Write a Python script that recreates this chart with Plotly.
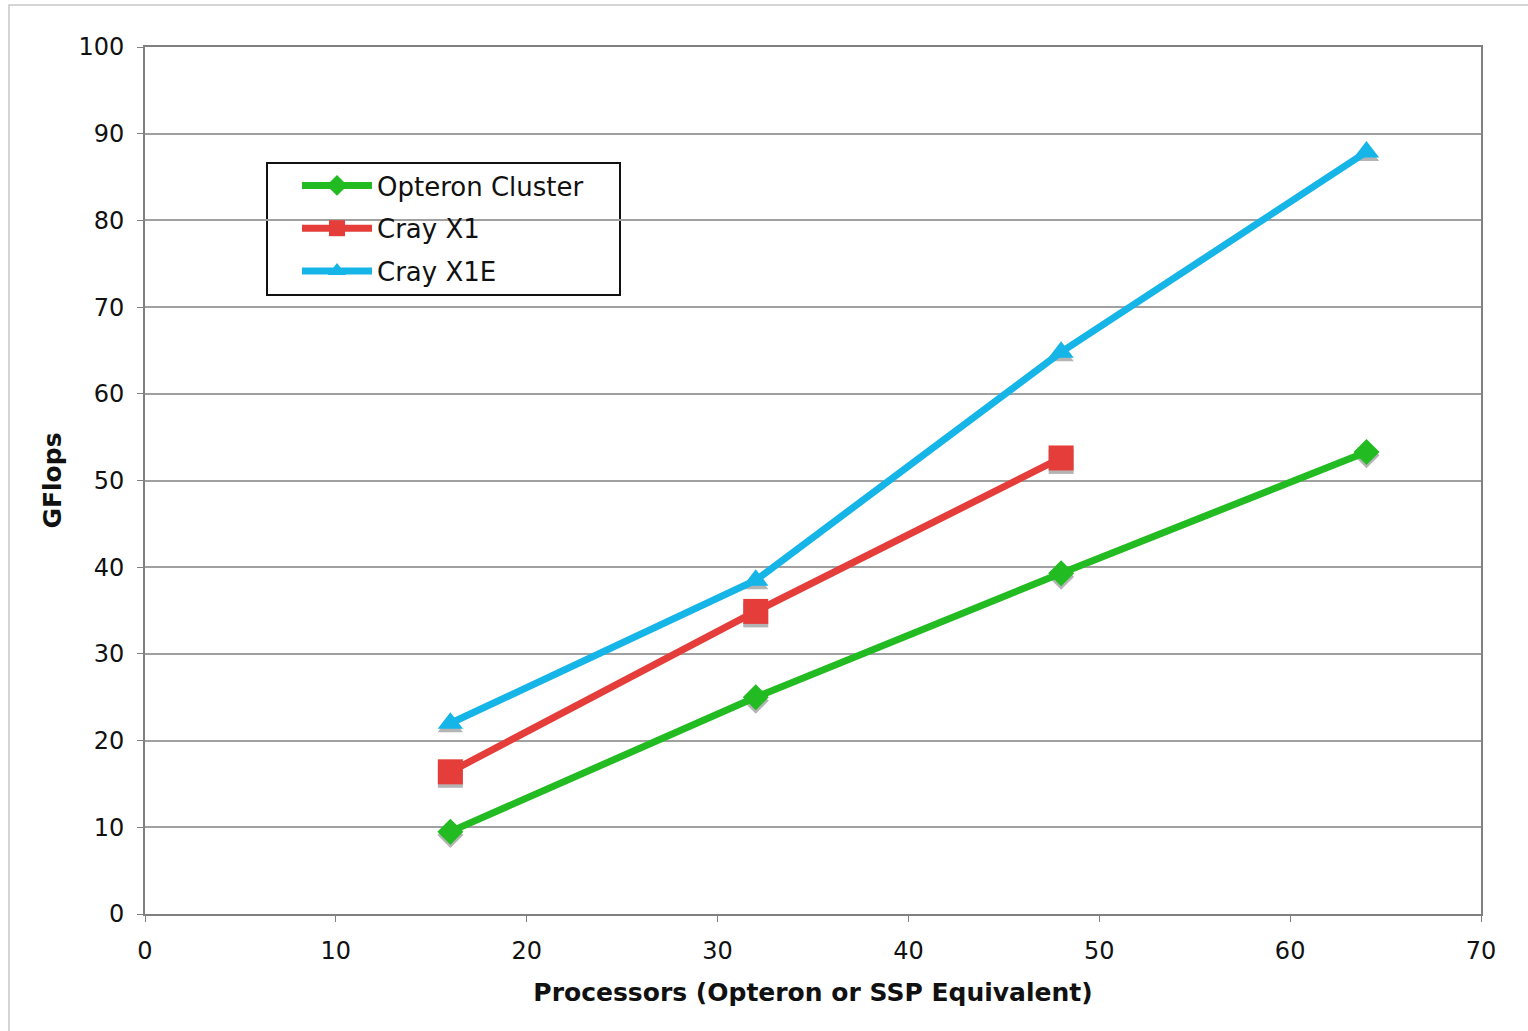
import plotly.graph_objects as go

processors = [16, 32, 48, 64]
opteron = [9.5, 25.0, 39.3, 53.3]
cray_x1_proc = [16, 32, 48]
cray_x1 = [16.4, 34.9, 52.6]
cray_x1e = [22.0, 38.5, 64.8, 87.9]

x_ticks = [0, 10, 20, 30, 40, 50, 60, 70]
y_ticks = [0, 10, 20, 30, 40, 50, 60, 70, 80, 90, 100]

GREEN = "#22bb22"
RED = "#e53e3a"
BLUE = "#16b5e8"
SHADOW = "#b4b4b4"
FONT = "DejaVu Sans"

fig = go.Figure()

# marker shadows, drawn on the base axis shifted slightly so they peek out below
for xs, ys, sym, size in [
    (processors, opteron, "diamond", 20),
    (cray_x1_proc, cray_x1, "square", 25),
    (processors, cray_x1e, "triangle-up", 22),
]:
    fig.add_trace(go.Scatter(x=xs, y=ys, mode="markers", yaxis="y",
                             marker=dict(symbol=sym, size=size, color=SHADOW),
                             showlegend=False, hoverinfo="skip"))

series = [
    ("Opteron Cluster", processors, opteron, GREEN, "diamond", 20),
    ("Cray X1", cray_x1_proc, cray_x1, RED, "square", 25),
    ("Cray X1E", processors, cray_x1e, BLUE, "triangle-up", 22),
]
for i, (name, xs, ys, col, sym, size) in enumerate(series):
    fig.add_trace(go.Scatter(
        x=xs, y=ys, name=name, mode="lines+markers", legendgroup=f"g{i}",
        yaxis="y2",
        line=dict(color=col, width=7),
        marker=dict(symbol=sym, size=size, color=col),
    ))

axis_common = dict(
    showline=True, linecolor="#808080", linewidth=2, mirror=True,
    ticks="outside", ticklen=6, tickcolor="#808080", tickwidth=1,
    tickfont=dict(family=FONT, size=24, color="#111111"),
    ticklabelstandoff=8,
    zeroline=False,
)

fig.update_layout(
    width=1528, height=1031,
    margin=dict(l=145, r=47, t=47, b=117),
    paper_bgcolor="white", plot_bgcolor="white",
    font=dict(family=FONT, color="#111111"),
    xaxis=dict(range=[0, 70], tickvals=x_ticks, showgrid=False,
               title=dict(text="<b>Processors (Opteron or SSP Equivalent)</b>",
                          font=dict(family=FONT, size=25), standoff=20),
               **axis_common),
    yaxis=dict(range=[0.4, 100.4], visible=False, showgrid=False),
    yaxis2=dict(range=[0, 100], tickvals=y_ticks, showgrid=True,
                overlaying="y", side="left",
                gridcolor="#a0a0a0", gridwidth=1.5,
                title=dict(text="<b>GFlops</b>",
                           font=dict(family=FONT, size=25), standoff=10),
                **axis_common),
    legend=dict(
        x=(297 - 145) / 1336, y=(914 - 162) / 867, xanchor="left", yanchor="top",
        bgcolor="rgba(0,0,0,0)", borderwidth=0,
        font=dict(family=FONT, size=26, color="#111111"),
        itemwidth=70, traceorder="grouped", tracegroupgap=6,
    ),
    shapes=[
        dict(type="rect", xref="paper", yref="paper",
             x0=(9 - 145) / 1336, x1=1.1, y0=-0.2, y1=(914 - 5) / 867,
             line=dict(color="#c8c8c8", width=1.5), layer="below"),
        dict(type="rect", xref="paper", yref="paper",
             x0=(267 - 145) / 1336, x1=(620 - 145) / 1336,
             y0=(914 - 295) / 867, y1=(914 - 163) / 867,
             fillcolor="white", line=dict(color="#111111", width=2),
             layer="between"),
    ],
    showlegend=True,
)

fig.write_html("out.html")
